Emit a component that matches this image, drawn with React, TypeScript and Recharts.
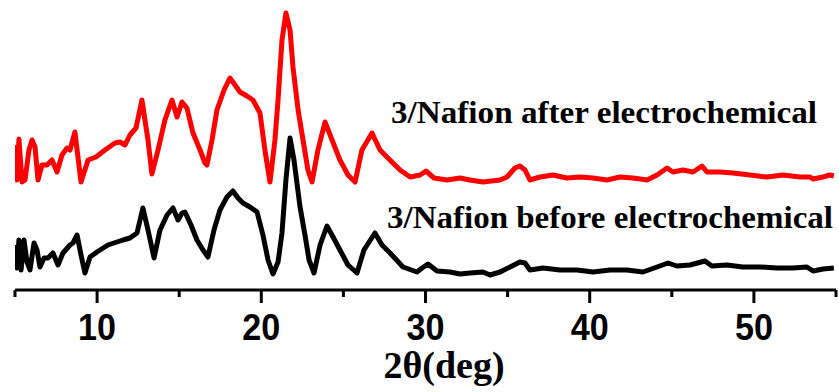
import { LineChart, Line, XAxis, YAxis, Customized } from 'recharts';

// 2θ positions (deg) and counts (arb. units)
const afterTheta = [
  5.0, 5.12, 5.24, 5.43, 5.61, 5.85, 6.04, 6.22, 6.4, 6.64, 6.95, 7.25, 7.56, 7.86, 8.17, 8.35, 8.65, 9.02, 9.45, 9.93,
  10.48, 11.09, 11.39, 11.7, 12.0, 12.37, 12.73, 13.1, 13.34, 13.71, 14.13, 14.56, 14.87, 15.17, 15.47, 15.84, 16.27, 16.57, 16.69, 17.0,
  17.3, 17.73, 18.09, 18.4, 18.7, 19.13, 19.49, 19.92, 20.22, 20.53, 20.83, 21.02, 21.26, 21.5, 21.75, 21.93, 22.24, 22.54, 22.84, 23.09,
  23.45, 23.88, 24.31, 24.79, 25.28, 25.71, 26.13, 26.74, 27.23, 27.65, 28.45, 29.06, 29.67, 30.03, 30.52, 31.31, 32.1, 32.71, 33.5, 34.54,
  34.96, 35.45, 35.75, 36.06, 36.36, 36.97, 37.77, 38.62, 39.41, 40.2, 41.05, 41.85, 42.64, 43.49, 44.1, 44.71, 45.07, 45.68, 46.29, 46.84,
  47.14, 47.93, 48.73, 49.76, 50.8, 51.77, 52.81, 53.42, 53.6, 54.21, 54.63, 54.87,
];
const afterCounts = [
  145, 110, 151, 108, 110, 140, 150, 143, 110, 125, 125, 130, 118, 135, 142, 140, 158, 108, 130, 133,
  140, 147, 148, 145, 155, 162, 190, 150, 116, 140, 170, 190, 173, 188, 182, 157, 140, 127, 125, 150,
  180, 200, 212, 205, 198, 194, 190, 177, 140, 108, 150, 190, 250, 277, 260, 223, 180, 150, 120, 108,
  140, 168, 150, 130, 115, 108, 140, 157, 140, 133, 120, 113, 115, 119, 112, 110, 112, 110, 108, 110,
  113, 122, 124, 120, 110, 113, 115, 112, 113, 112, 110, 113, 112, 110, 115, 122, 118, 120, 118, 124,
  118, 118, 117, 115, 113, 115, 113, 113, 111, 113, 115, 114,
];

const beforeTheta = [
  5.0, 5.12, 5.24, 5.37, 5.55, 5.73, 5.91, 6.16, 6.34, 6.52, 6.77, 7.01, 7.31, 7.62, 7.92, 8.35, 8.53, 8.78, 9.02, 9.26,
  9.57, 9.99, 10.18, 10.66, 11.21, 11.58, 12.0, 12.43, 12.79, 13.1, 13.47, 13.83, 14.26, 14.62, 14.93, 15.17, 15.35, 15.72, 16.08, 16.45,
  16.75, 17.12, 17.48, 17.91, 18.27, 18.58, 18.88, 19.31, 19.74, 20.1, 20.41, 20.71, 21.02, 21.26, 21.5, 21.75, 21.99, 22.36, 22.66, 22.91,
  23.21, 23.58, 24.0, 24.37, 24.79, 25.28, 25.83, 26.25, 26.92, 27.35, 27.84, 28.63, 29.48, 29.79, 30.15, 30.7, 31.49, 32.1, 32.71, 33.5,
  33.93, 34.54, 35.15, 35.75, 36.06, 36.36, 37.16, 38.19, 39.23, 40.2, 41.24, 42.27, 43.24, 44.1, 44.77, 45.31, 46.1, 47.02, 47.44, 48.36,
  49.33, 50.37, 51.4, 52.38, 53.23, 53.6, 54.21, 54.87,
];
const beforeCounts = [
  45, 22, 50, 20, 50, 28, 20, 47, 40, 23, 32, 32, 37, 25, 37, 45, 47, 55, 35, 17,
  33, 38, 40, 45, 48, 50, 52, 57, 82, 60, 32, 60, 75, 82, 70, 77, 78, 65, 50, 40,
  33, 60, 80, 93, 99, 92, 87, 83, 78, 55, 30, 16, 28, 57, 110, 152, 130, 83, 55, 30,
  17, 45, 64, 53, 40, 25, 17, 40, 57, 45, 37, 23, 18, 22, 26, 19, 18, 16, 17, 18,
  15, 18, 23, 28, 27, 20, 22, 20, 20, 18, 20, 20, 18, 23, 27, 24, 25, 29, 24, 25,
  23, 23, 22, 22, 23, 19, 21, 22,
];

const axisTicks = [5, 10, 15, 20, 25, 30, 35, 40, 45, 50, 55];
const labeledTicks = [10, 20, 30, 40, 50];

const afterData = afterTheta.map((x, i) => ({ x, y: afterCounts[i] }));
const beforeData = beforeTheta.map((x, i) => ({ x, y: beforeCounts[i] }));

const serif = '"Liberation Serif", "Times New Roman", serif';
const sans = '"Liberation Sans", Arial, sans-serif';

function AxisTick(props: any) {
  const { x, y, payload } = props;
  const major = labeledTicks.includes(payload.value);
  return (
    <g>
      <line x1={x} x2={x} y1={y} y2={y + (major ? 13 : 7)} stroke="#000" strokeWidth={3} />
      {major && (
        <text
          x={x}
          y={y + 50}
          textAnchor="middle"
          fontFamily={sans}
          fontWeight="bold"
          fontSize={37}
          textLength={38}
          lengthAdjust="spacingAndGlyphs"
          fill="#000"
        >
          {payload.value}
        </text>
      )}
    </g>
  );
}

function Annotations() {
  return (
    <g>
      <text x={391} y={123} fontFamily={serif} fontWeight="bold" fontSize={32} textLength={426} lengthAdjust="spacingAndGlyphs" fill="#000">
        3/Nafion after electrochemical
      </text>
      <text x={387} y={228} fontFamily={serif} fontWeight="bold" fontSize={32} textLength={446} lengthAdjust="spacingAndGlyphs" fill="#000">
        3/Nafion before electrochemical
      </text>
      <text x={444} y={378} textAnchor="middle" fontFamily={serif} fontWeight="bold" fontSize={38} fill="#000">
        2θ(deg)
      </text>
    </g>
  );
}

export default function App() {
  return (
    <div style={{ position: 'absolute', left: 0, top: 0, width: 839, height: 392, background: '#fff' }}>
      <LineChart width={839} height={392} margin={{ top: 0, right: 3, left: 15, bottom: 42 }}>
        <XAxis
          type="number"
          dataKey="x"
          domain={[5, 55]}
          ticks={axisTicks}
          allowDataOverflow
          height={60}
          tickSize={0}
          tickMargin={0}
          tickLine={false}
          axisLine={{ stroke: '#000', strokeWidth: 3 }}
          tick={<AxisTick />}
          interval={0}
        />
        <YAxis type="number" domain={[0, 290]} hide />
        <Line data={afterData} dataKey="y" type="linear" stroke="#ff0000" strokeWidth={5} dot={false} isAnimationActive={false} strokeLinejoin="round" />
        <Line data={beforeData} dataKey="y" type="linear" stroke="#000" strokeWidth={5} dot={false} isAnimationActive={false} strokeLinejoin="round" />
        <Customized component={<Annotations />} />
      </LineChart>
    </div>
  );
}
